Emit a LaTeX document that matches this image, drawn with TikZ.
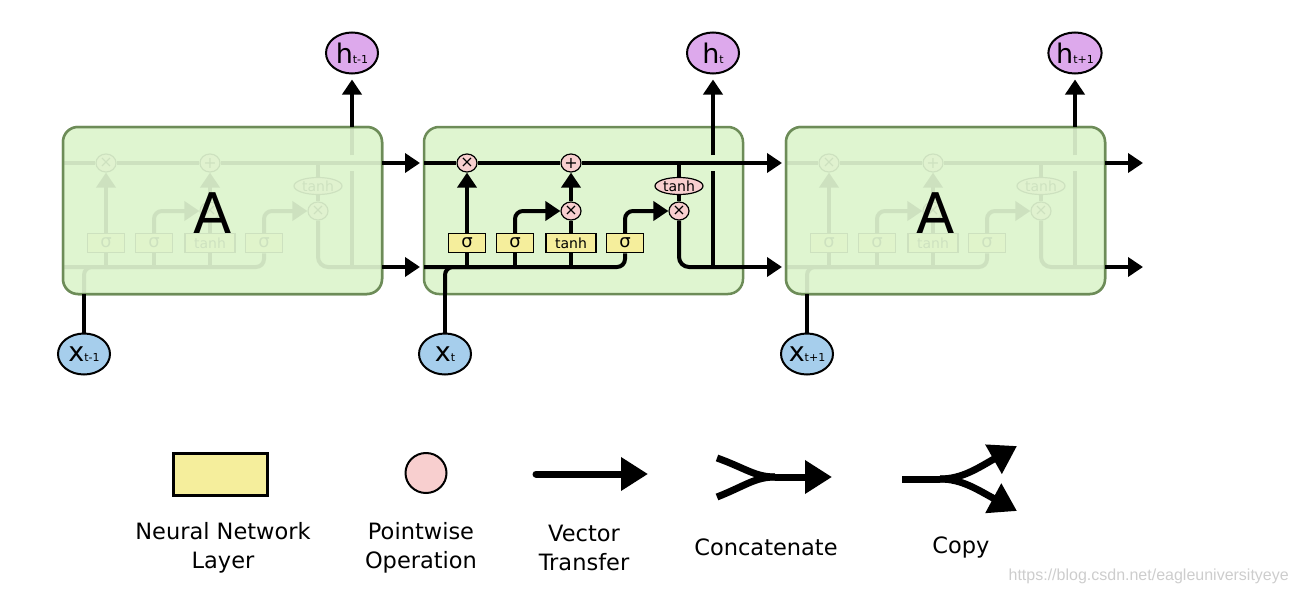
\documentclass[tikz,border=0pt]{standalone}
\usepackage{fontspec}
\setmainfont{DejaVu Sans}
\newfontfamily\wmfont{Liberation Sans}
\usetikzlibrary{shapes.geometric,arrows.meta}
\definecolor{cellfill}{RGB}{223,245,208}
\definecolor{cellline}{RGB}{109,140,88}
\definecolor{layerfill}{RGB}{245,238,156}
\definecolor{pwfill}{RGB}{248,207,207}
\definecolor{xfill}{RGB}{166,206,236}
\definecolor{hfill}{RGB}{221,169,236}
\definecolor{wmgray}{RGB}{205,205,205}
\newcommand\iolab[2]{{\fontsize{27}{27}\selectfont #1}{\fontsize{11}{11}\selectfont #2}}

\begin{document}
\begin{tikzpicture}[x=1pt,y=-1pt]
\tikzstyle{cellbox}=[draw=cellline,fill=cellfill,line width=2.5pt,rounded corners=15pt,minimum width=319pt,minimum height=167pt,inner sep=0pt]
\tikzstyle{nnlayer}=[draw,line width=1.5pt,fill=layerfill,minimum width=37pt,minimum height=19pt,inner sep=0pt,font=\fontsize{18}{18}\selectfont]
\tikzstyle{pw}=[draw,line width=1.2pt,fill=pwfill,ellipse,minimum width=20pt,minimum height=18pt,inner sep=0pt,font=\fontsize{16}{16}\selectfont]
\tikzstyle{ionode}=[draw,line width=2pt,ellipse,minimum width=52pt,minimum height=41pt,inner sep=0pt]
\tikzstyle{conn}=[line width=4pt]
\tikzstyle{arr}=[conn,-{Triangle[length=15pt,width=19pt]}]
\tikzstyle{fat}=[line width=7pt,line cap=round]
\tikzstyle{fatarr}=[fat,-{Triangle[length=27pt,width=32pt]}]
\tikzstyle{legtext}=[align=center,font=\fontsize{22.5}{29}\selectfont]

\useasboundingbox (0,0) rectangle (1290,594);

% the same cell three times
\foreach \dx/\p in {-361/L,0/M,362/R}{
\begin{scope}[xshift=\dx pt,name prefix=\p-]
\node[cellbox] (cell) at (583.5,210.5) {};
\coordinate (cin) at (424,163); \coordinate (cout) at (743,163);
\coordinate (hin) at (424,267); \coordinate (hout) at (743,267);
\coordinate (xin) at (445,294); \coordinate (hup) at (713,127);
\node[pw] (mulF) at (467,163) {×};
\node[pw] (addC) at (571,163) {+};
\node[pw] (mulI) at (571,211) {×};
\node[pw] (mulO) at (679,211) {×};
\node[pw,minimum width=48pt,minimum height=17pt,font=\fontsize{14}{14}\selectfont] (tanhO) at (679,186) {tanh};
\node[nnlayer] (sigF) at (467,243) {σ};
\node[nnlayer] (sigI) at (515,243) {σ};
\node[nnlayer,minimum width=50pt,font=\fontsize{14}{14}\selectfont] (tanhC) at (571,243) {tanh};
\node[nnlayer] (sigO) at (625,243) {σ};
\draw[conn] (cin) -- (mulF) (mulF) -- (addC) (addC) -- (cout);
\draw[conn,rounded corners=8pt] (hin) -| (sigO);
\draw[conn,rounded corners=8pt] (xin) |- (480,267);
\foreach \g in {sigF,sigI,tanhC} \draw[conn] (\g) -- (\g |- hin);
\draw[arr] (sigF) -- (mulF);
\draw[arr,rounded corners=8pt] (sigI) |- (mulI);
\draw[conn] (tanhC) -- (mulI);
\draw[arr] (mulI) -- (addC);
\draw[arr,rounded corners=8pt] (sigO) |- (mulO);
\draw[conn] (mulO |- cin) -- (tanhO);
\draw[conn] (tanhO) -- (mulO);
\draw[conn,rounded corners=10pt] (mulO) |- (hout);
\draw[conn] (hup |- hin) -- (713,171);
\draw[conn] (713,155) -- (hup);
\end{scope}}

% fade the outer cells
\foreach \p in {L,R}{
\node[cellbox,fill opacity=0.92] (\p-veil) at (\p-cell) {};
\node[font=\fontsize{56}{56}\selectfont] (\p-A) at ([xshift=-10pt,yshift=-2.5pt]\p-cell.center) {A};
}

\node[ionode,fill=hfill] (hL) at (352,53) {\iolab{h}{t-1}};
\node[ionode,fill=hfill] (hM) at (713,53) {\iolab{h}{t}};
\node[ionode,fill=hfill] (hR) at (1075,53) {\iolab{h}{t+1}};
\node[ionode,fill=xfill] (xL) at (84,354) {\iolab{x}{t-1}};
\node[ionode,fill=xfill] (xM) at (445,354) {\iolab{x}{t}};
\node[ionode,fill=xfill] (xR) at (807,354) {\iolab{x}{t+1}};
\foreach \p/\h/\x in {L/hL/xL,M/hM/xM,R/hR/xR}{
\draw[arr,shorten >=5pt] (\p-hup) -- (\p-hup |- \h.south);
\draw[conn] (\x) -- (\p-xin);
}
\draw[arr,shorten >=4pt] (L-cout) -- (M-cin);
\draw[arr,shorten >=4pt] (L-hout) -- (M-hin);
\draw[arr,shorten >=4pt] (M-cout) -- (R-cin);
\draw[arr,shorten >=4pt] (M-hout) -- (R-hin);
\coordinate (cend) at (1143,163);
\coordinate (hend) at (1143,267);
\draw[arr] (R-cout) -- (cend);
\draw[arr] (R-hout) -- (hend);

% legend
\node[nnlayer,minimum width=94pt,minimum height=42pt,line width=3pt] (legNN) at (220,474) {};
\node[pw,minimum width=41pt,minimum height=40pt,line width=2pt] (legPW) at (426,473) {};
\coordinate (vecA) at (536,474); \coordinate (vecB) at (648,474);
\draw[fatarr] (vecA) -- (vecB);
\coordinate (catA) at (717,458); \coordinate (catB) at (717,497);
\coordinate (catJ) at (775,477); \coordinate (catE) at (832,477);
\draw[fat,line cap=butt] (catA) .. controls (745,468) and (755,477) .. (catJ);
\draw[fat,line cap=butt] (catB) .. controls (745,486) and (755,477) .. (catJ);
\draw[fatarr,line cap=butt] (catJ) -- (catE);
\coordinate (cpA) at (902,479); \coordinate (cpJ) at (940,479);
\coordinate (cpU) at (1017,446); \coordinate (cpD) at (1017,511);
\draw[fat,line cap=butt] (cpA) -- (cpJ);
\draw[fatarr,line cap=butt] (cpJ) .. controls (962,479) and (978,468) .. (cpU);
\draw[fatarr,line cap=butt] (cpJ) .. controls (962,479) and (978,490) .. (cpD);
\node[legtext] (txtNN) at (223,548) {Neural Network\\Layer};
\node[legtext] (txtPW) at (421,548) {Pointwise\\Operation};
\node[legtext] (txtVT) at (584,548) {Vector\\Transfer};
\node[legtext] (txtCC) at (766,547) {Concatenate};
\node[legtext] (txtCP) at (961,547) {Copy};
\node[anchor=east,text=wmgray,font=\wmfont\fontsize{16}{16}\selectfont,inner sep=0pt] (wm) at (1289,576) {https://blog.csdn.net/eagleuniversityeye};
\end{tikzpicture}
\end{document}
